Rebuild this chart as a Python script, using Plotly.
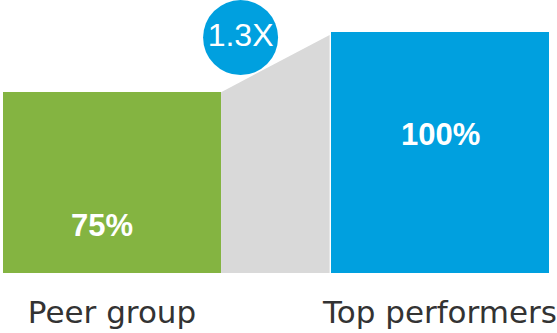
import plotly.graph_objects as go

categories = ["Peer group", "Top performers"]
values = [75, 100]
bar_labels = ["75%", "100%"]
bar_colors = ["#84B441", "#00A0DF"]

ratio = values[1] / values[0]
ratio_label = f"{ratio:.1f}X"

BAR_W = 0.665
fig = go.Figure()

fig.add_trace(go.Bar(
    x=[0, 1], y=values, width=BAR_W,
    marker=dict(color=bar_colors, line=dict(width=0)),
    hoverinfo="skip", showlegend=False,
))

# grey connector between the bars
xl = 0 + BAR_W / 2
xr = 1 - BAR_W / 2 - 0.004
fig.add_trace(go.Scatter(
    x=[xl, xl, xr, xr, xl],
    y=[0, values[0], values[1] * 0.988, 0, 0],
    fill="toself", fillcolor="#D9D9D9", mode="lines",
    line=dict(width=0, color="#D9D9D9"),
    hoverinfo="skip", showlegend=False,
))

# ratio bubble
fig.add_trace(go.Scatter(
    x=[0.392], y=[97.7], mode="markers+text",
    marker=dict(size=75, color="#00A0DF", line=dict(width=0)),
    text=[ratio_label], textposition="middle center",
    textfont=dict(family="Liberation Sans, Arial", size=32, color="white"),
    cliponaxis=False, hoverinfo="skip", showlegend=False,
))

label_pos = [(-0.032, 19.9), (1.0, 57.3)]
for (lx, ly), txt in zip(label_pos, bar_labels):
    fig.add_annotation(
        x=lx, y=ly, xref="x", yref="y", text=f"<b>{txt}</b>", showarrow=False,
        font=dict(family="Liberation Sans, Arial", size=31, color="white"),
        xanchor="center", yanchor="middle",
    )

fig.update_layout(
    width=557, height=333,
    margin=dict(l=0, r=0, t=0, b=60),
    paper_bgcolor="white", plot_bgcolor="white",
    bargap=0,
)
fig.update_xaxes(
    range=[-0.3415, 1.3567], tickmode="array", tickvals=[0, 1], ticktext=categories,
    showgrid=False, zeroline=False, showline=False, ticks="",
    tickfont=dict(family="DejaVu Sans", size=31, color="#333333"),
    ticklabelstandoff=18, fixedrange=True,
)
fig.update_yaxes(
    range=[0, 113.28], visible=False, showgrid=False, zeroline=False, fixedrange=True,
)

fig.write_html("out.html", config={"displayModeBar": False})
